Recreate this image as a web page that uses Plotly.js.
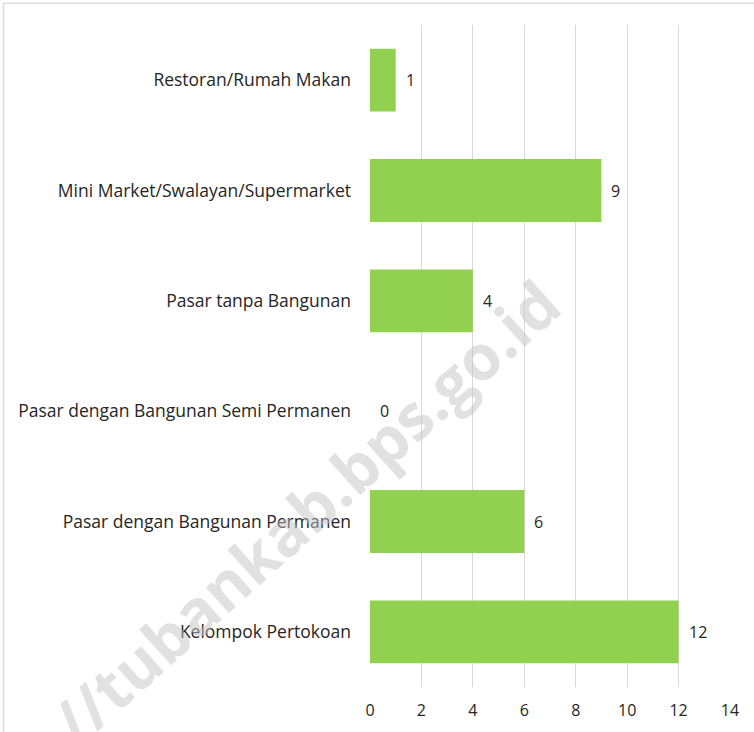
<!DOCTYPE html>
<html>
<head>
<meta charset="utf-8">
<script src="https://cdn.plot.ly/plotly-3.0.1.min.js"></script>
<style>html,body{margin:0;padding:0;background:#fff;}#chart{width:754px;height:732px;}</style>
</head>
<body>
<div id="chart"></div>
<script>
var categories = [
  "Kelompok Pertokoan",
  "Pasar dengan Bangunan Permanen",
  "Pasar dengan Bangunan Semi Permanen",
  "Pasar tanpa Bangunan",
  "Mini Market/Swalayan/Supermarket",
  "Restoran/Rumah Makan"
];
var values = [12, 6, 0, 4, 9, 1];
var xTicks = [0, 2, 4, 6, 8, 10, 12, 14];
var watermark = "//tubankab.bps.go.id";

var FONT = "'Open Sans', sans-serif";
var TXT = "#262626";

var trace = {
  type: "bar",
  orientation: "h",
  y: categories,
  x: values,
  marker: {color: "#92D050"},
  width: 0.57,
  hoverinfo: "x+y"
};

var annotations = categories.map(function (c, i) {
  return {
    x: values[i], y: c, xref: "x", yref: "y",
    text: String(values[i]), showarrow: false,
    xanchor: "left", xshift: 8,
    font: {family: FONT, size: 16, color: TXT}
  };
});
annotations.push({
  xref: "paper", yref: "paper", x: -0.18, y: 0.265,
  xanchor: "center", yanchor: "middle",
  text: "<b>" + watermark + "</b>", showarrow: false,
  textangle: -42,
  font: {family: "'Open Sans', sans-serif", size: 63, color: "rgba(195,195,195,0.5)"}
});

var layout = {
  width: 754, height: 732,
  margin: {l: 370, r: 24.4, t: 25, b: 45},
  paper_bgcolor: "#fff", plot_bgcolor: "#fff",
  showlegend: false,
  bargap: 0.43,
  font: {family: FONT, size: 16, color: TXT},
  xaxis: {
    range: [0, 14], tickvals: xTicks, ticktext: xTicks.map(String),
    showgrid: true, gridcolor: "#d9d9d9", gridwidth: 1,
    zeroline: false, showline: false, ticks: "",
    ticklabelstandoff: 12,
    tickfont: {family: FONT, size: 16, color: TXT},
    fixedrange: true
  },
  yaxis: {
    type: "category", categoryorder: "array", categoryarray: categories,
    range: [-0.5, 5.5],
    showgrid: false, zeroline: false, showline: false, ticks: "",
    ticklabelstandoff: 18,
    tickfont: {family: FONT, size: 17.5, color: TXT},
    fixedrange: true
  },
  annotations: annotations,
  shapes: [
    {type: "line", xref: "paper", yref: "paper", x0: -1.018, x1: 1.2, y0: 1.033, y1: 1.033,
     line: {color: "#dddddd", width: 1.5}},
    {type: "line", xref: "paper", yref: "paper", x0: -1.018, x1: -1.018, y0: -0.1, y1: 1.033,
     line: {color: "#dddddd", width: 1.5}}
  ]
};

Plotly.newPlot("chart", [trace], layout, {displayModeBar: false, staticPlot: true});
</script>
</body>
</html>
